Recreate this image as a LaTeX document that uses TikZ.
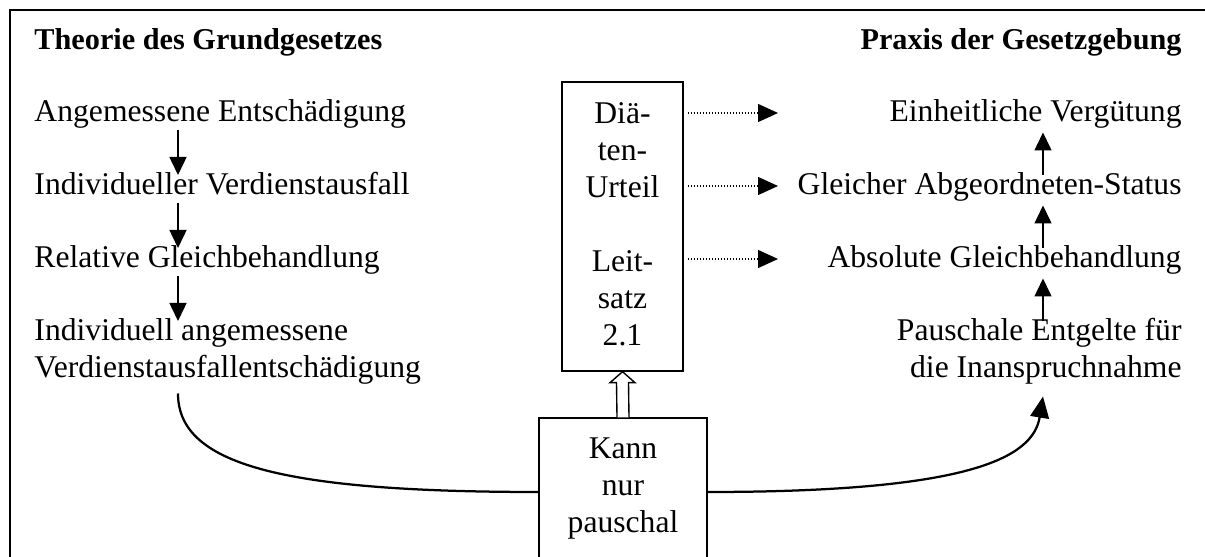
\documentclass[tikz,border=0pt]{standalone}
\usepackage{fontspec}
\setmainfont{Liberation Serif}
\usetikzlibrary{arrows.meta,calc}
\begin{document}
\begin{tikzpicture}[x=0.4pt,y=-0.4pt,
  base/.style={inner sep=0pt, font=\fontsize{12.65}{14.8}\selectfont},
  txt/.style={base, text height=7.8pt, text depth=3.2pt},
  ttl/.style={txt, font=\fontsize{12.1}{14.8}\selectfont\bfseries},
  boxnode/.style={draw, line width=0.55pt, inner sep=0pt},
  thinarr/.style={line width=0.6pt, -{Triangle[length=7.2pt,width=6.8pt]}},
  dotarr/.style={line width=0.5pt, dash pattern=on 0.45pt off 0.75pt, -{Triangle[length=8pt,width=7.2pt]}},
  curvearr/.style={line width=0.9pt},
  hollow/.style={draw, line width=0.55pt, fill=white}]
\useasboundingbox (0,0) rectangle (1205,557);
% frame (only top and left edges visible)
\draw[line width=0.8pt] (1210,10) -- (10,10) -- (10,562);
% titles
\node[ttl, anchor=base west] (t1) at (34,50) {Theorie des Grundgesetzes};
\node[ttl, anchor=base east] (t2) at (1182,50) {Praxis der Gesetzgebung};
% left column
\node[txt, anchor=base west] (l1) at (34,122) {Angemessene Entschädigung};
\node[txt, anchor=base west] (l2) at (34,195) {Individueller Verdienstausfall};
\node[txt, anchor=base west] (l3) at (34,268) {Relative Gleichbehandlung};
\node[txt, anchor=base west] (l4) at (34,341) {Individuell angemessene};
\node[txt, anchor=base west] (l5) at (34,378) {Verdienstausfallentschädigung};
% right column
\node[txt, anchor=base east] (r1) at (1182,122) {Einheitliche Vergütung};
\node[txt, anchor=base east] (r2) at (1182,195) {Gleicher Abgeordneten-Status};
\node[txt, anchor=base east] (r3) at (1182,268) {Absolute Gleichbehandlung};
\node[txt, anchor=base east] (r4) at (1182,341) {Pauschale Entgelte für};
\node[txt, anchor=base east] (r5) at (1182,378) {die Inanspruchnahme};
% helper coordinates
\coordinate (lx) at (178,0);
\coordinate (rx) at (1043,0);
\coordinate (dtip) at (778,0);
\coordinate (cy) at (0,492);
% central boxes
\node[boxnode, minimum width=48.4pt, minimum height=115.6pt] (diat) at (622.5,226.5) {};
\node[base, anchor=north, align=center] (diattext) at (622.5,102)
  {Diä-\\ten-\\Urteil\\[14.8pt]Leit-\\satz\\2.1};
\node[boxnode, minimum width=67.2pt, minimum height=88.8pt] (kann) at (623,529) {};
\node[base, anchor=north, align=center] (kanntext) at (623,437)
  {Kann\\nur\\pauschal};
% left arrows
\draw[thinarr] (l1.south -| lx) -- (l2.north -| lx);
\draw[thinarr] (l2.south -| lx) -- (l3.north -| lx);
\draw[thinarr] (l3.south -| lx) -- (l4.north -| lx);
% right arrows
\draw[thinarr] (r2.north -| rx) -- ($(r1.south -| rx)+(0,2)$);
\draw[thinarr] (r3.north -| rx) -- ($(r2.south -| rx)+(0,2)$);
\draw[thinarr] (r4.north -| rx) -- ($(r3.south -| rx)+(0,2)$);
% dotted arrows
\draw[dotarr] ($(diat.east |- l1.base)+(4,-9)$) -- ($(dtip |- l1.base)+(0,-9)$);
\draw[dotarr] ($(diat.east |- l2.base)+(4,-9)$) -- ($(dtip |- l2.base)+(0,-9)$);
\draw[dotarr] ($(diat.east |- l3.base)+(4,-9)$) -- ($(dtip |- l3.base)+(0,-9)$);
% hollow arrow
\draw[hollow] ($(kann.north)+(-6,0)$) -- ($(diat.south)+(-6,11)$) -- ($(diat.south)+(-12.5,11)$)
  -- (diat.south) -- ($(diat.south)+(12.5,11)$) -- ($(diat.south)+(6,11)$) -- ($(kann.north)+(6,0)$);
% curves
\draw[curvearr] ($(l5.south -| lx)+(0,7)$) .. controls +(0,70) and +(-260,0) .. (kann.west |- cy);
\draw[curvearr, -{Triangle[length=8.5pt,width=7.5pt]}] (kann.east |- cy) .. controls +(260,0) and +(-10,62) .. ($(r5.south -| rx)+(0,10)$);
\end{tikzpicture}
\end{document}
